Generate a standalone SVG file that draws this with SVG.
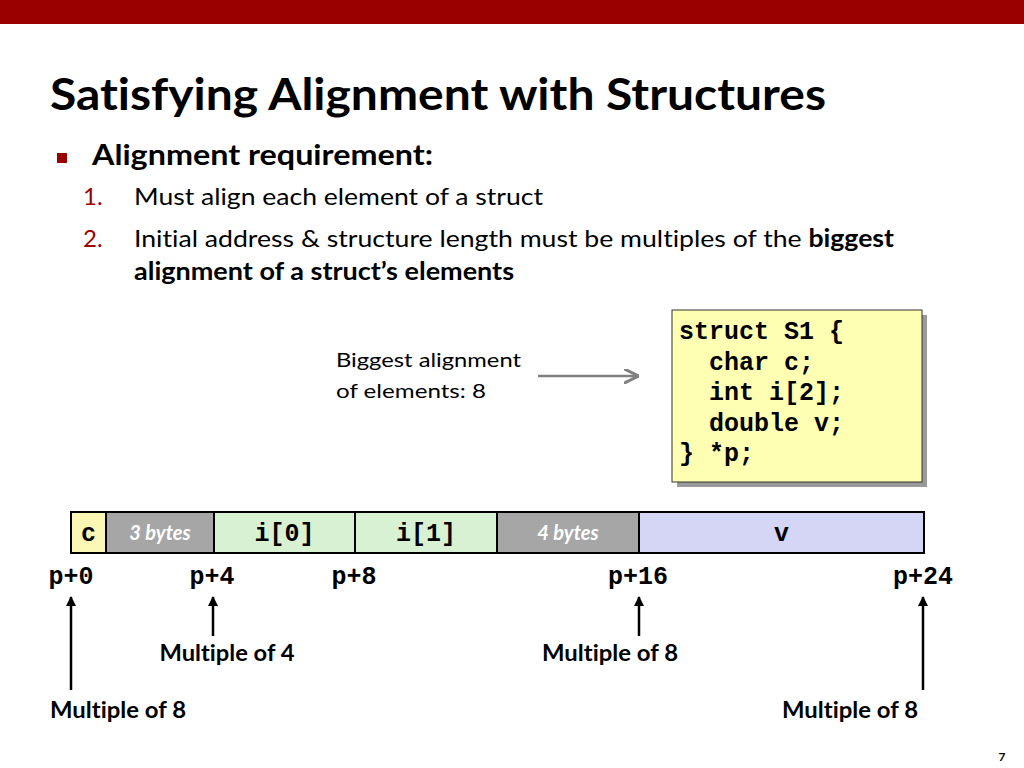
<svg xmlns="http://www.w3.org/2000/svg" width="1024" height="768" viewBox="0 0 1024 768">
<defs>
<marker id="ah" viewBox="0 0 10 10" refX="9" refY="5" markerWidth="4" markerHeight="4" orient="auto" markerUnits="strokeWidth"><path d="M0,0 L10,5 L0,10 z" fill="#000"/></marker>
<marker id="ahg" viewBox="0 0 10 10" refX="9" refY="5" markerWidth="6" markerHeight="6" orient="auto" markerUnits="strokeWidth"><path d="M0,0 L10,5 L0,10" fill="none" stroke="#808080" stroke-width="2"/></marker>
</defs>
<style>
text{font-variant-ligatures:none;font-feature-settings:"liga" 0;}
.sans{font-family:Lato,"Open Sans","Liberation Sans",sans-serif;}
.mono{font-family:"Liberation Mono","Courier New",monospace;font-weight:bold;}
.seg{stroke:#000;stroke-width:2;}
.pad{font-family:Lato,"Open Sans","Liberation Sans",sans-serif;font-style:italic;font-weight:bold;fill:#fff;font-size:20px;}
.lbl{font-family:Lato,"Open Sans","Liberation Sans",sans-serif;font-weight:bold;font-size:22px;fill:#000;}
.addr{font-family:"Liberation Mono","Courier New",monospace;font-weight:bold;font-size:25px;fill:#000;}
.conn{stroke:#000;stroke-width:2.5;fill:none;}
</style>
<rect width="1024" height="768" fill="#fff"/>
<rect x="0" y="0" width="1024" height="24" fill="#990000"/>
<text class="sans" x="50" y="110" font-size="44" font-weight="bold" textLength="776" lengthAdjust="spacingAndGlyphs">Satisfying Alignment with Structures</text>
<rect x="57" y="153" width="10" height="10" fill="#990000"/>
<text class="sans" x="92" y="165" font-size="28" font-weight="bold" textLength="341" lengthAdjust="spacingAndGlyphs">Alignment requirement:</text>
<text class="sans" x="83" y="205" font-size="24" fill="#990000">1.</text>
<text class="sans" x="134" y="205" font-size="24" textLength="409" lengthAdjust="spacingAndGlyphs">Must align each element of a struct</text>
<text class="sans" x="83" y="247" font-size="24" fill="#990000">2.</text>
<text class="sans" x="134" y="247" font-size="24" textLength="760" lengthAdjust="spacingAndGlyphs">Initial address &amp; structure length must be multiples of the <tspan font-weight="bold">biggest</tspan></text>
<text class="sans" x="134" y="280" font-size="24" font-weight="bold" textLength="380" lengthAdjust="spacingAndGlyphs">alignment of a struct’s elements</text>

<g id="struct">
<rect x="677" y="315" width="250" height="172" fill="#9a9a9a"/>
<rect x="672" y="310" width="250" height="172" fill="#FFFFB3" stroke="#333" stroke-width="1"/>
<text class="mono" font-size="25" fill="#000">
<tspan x="679" y="339">struct S1 {</tspan>
<tspan x="679" y="370" xml:space="preserve">  char c;</tspan>
<tspan x="679" y="400" xml:space="preserve">  int i[2];</tspan>
<tspan x="679" y="431" xml:space="preserve">  double v;</tspan>
<tspan x="679" y="461">} *p;</tspan>
</text>
</g>

<g id="note">
<text class="sans" x="336" y="367" font-size="20" textLength="185" lengthAdjust="spacingAndGlyphs">Biggest alignment</text>
<text class="sans" x="336" y="398" font-size="20" textLength="150" lengthAdjust="spacingAndGlyphs">of elements: 8</text>
</g>

<g id="memory">
<g id="seg-c"><rect class="seg" x="71" y="512" width="35" height="41" fill="#FAF6B4"/><text class="addr" x="88.5" y="541" text-anchor="middle">c</text></g>
<g id="seg-pad3"><rect class="seg" x="106" y="512" width="108" height="41" fill="#A6A6A6"/><text class="pad" x="160" y="540" text-anchor="middle">3 bytes</text></g>
<g id="seg-i0"><rect class="seg" x="214" y="512" width="141" height="41" fill="#D9F1D3"/><text class="addr" x="284.5" y="541" text-anchor="middle">i[0]</text></g>
<g id="seg-i1"><rect class="seg" x="355" y="512" width="142" height="41" fill="#D9F1D3"/><text class="addr" x="426" y="541" text-anchor="middle">i[1]</text></g>
<g id="seg-pad4"><rect class="seg" x="497" y="512" width="142" height="41" fill="#A6A6A6"/><text class="pad" x="568" y="540" text-anchor="middle">4 bytes</text></g>
<g id="seg-v"><rect class="seg" x="639" y="512" width="285" height="41" fill="#D5D5F5"/><text class="addr" x="781.5" y="541" text-anchor="middle">v</text></g>
</g>

<g id="addresses">
<text class="addr" x="71" y="584" text-anchor="middle">p+0</text>
<text class="addr" x="212" y="584" text-anchor="middle">p+4</text>
<text class="addr" x="354" y="584" text-anchor="middle">p+8</text>
<text class="addr" x="638" y="584" text-anchor="middle">p+16</text>
<text class="addr" x="923" y="584" text-anchor="middle">p+24</text>
</g>

<g id="labels">
<text class="lbl" x="227" y="661" text-anchor="middle" textLength="135" lengthAdjust="spacingAndGlyphs">Multiple of 4</text>
<text class="lbl" x="610" y="661" text-anchor="middle" textLength="136" lengthAdjust="spacingAndGlyphs">Multiple of 8</text>
<text class="lbl" x="118" y="718" text-anchor="middle" textLength="136" lengthAdjust="spacingAndGlyphs">Multiple of 8</text>
<text class="lbl" x="850" y="718" text-anchor="middle" textLength="136" lengthAdjust="spacingAndGlyphs">Multiple of 8</text>
</g>

<g id="connectors">
<line x1="538" y1="376" x2="637" y2="376" stroke="#808080" stroke-width="2.5" marker-end="url(#ahg)"/>
<line class="conn" x1="71" y1="690" x2="71" y2="597" marker-end="url(#ah)"/>
<line class="conn" x1="213" y1="636" x2="213" y2="597" marker-end="url(#ah)"/>
<line class="conn" x1="639" y1="636" x2="639" y2="597" marker-end="url(#ah)"/>
<line class="conn" x1="923" y1="690" x2="923" y2="597" marker-end="url(#ah)"/>
</g>

<text class="sans" x="1002" y="761" font-size="12" font-weight="bold" text-anchor="middle">7</text>
</svg>
